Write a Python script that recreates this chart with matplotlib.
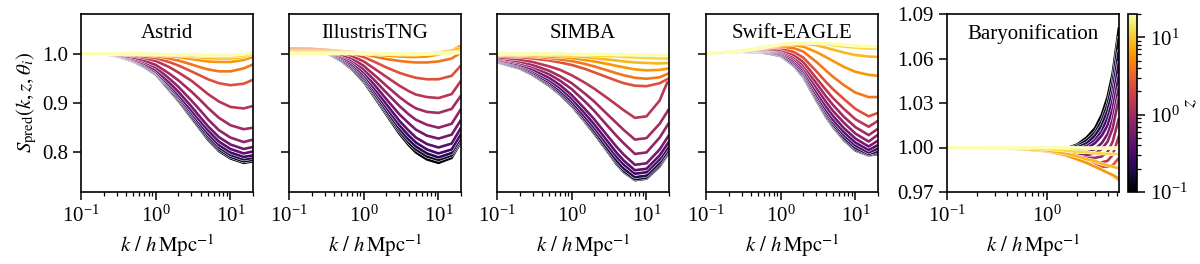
import numpy as np
import matplotlib
matplotlib.use("Agg")
import matplotlib.pyplot as plt
import matplotlib.patheffects as pe
from matplotlib.colors import LogNorm
from matplotlib.ticker import LogLocator, NullFormatter

plt.rcParams['font.family'] = 'serif'
plt.rcParams['font.serif'] = ['Liberation Serif', 'DejaVu Serif']
plt.rcParams['mathtext.fontset'] = 'stix'
plt.rcParams['font.size'] = 15

# redshifts of the curves (colour coded)
z_values = [0.1, 0.15, 0.2, 0.3, 0.4, 0.55, 0.8, 1.0, 1.4, 2.4, 4.0, 6.0, 8.5, 12.0, 20.0]

k_sim = [0.1, 0.2, 0.3, 0.5, 0.7, 1, 1.5, 2, 3, 4, 5, 7, 10, 15, 20]
k_bary = [0.1, 0.2, 0.3, 0.5, 0.7, 1, 1.5, 2, 2.5, 3, 3.5, 4, 4.5, 5.2]

S_astrid = [
    [1.000, 0.999, 0.995, 0.984, 0.973, 0.958, 0.927, 0.905, 0.870, 0.845, 0.826, 0.803, 0.788, 0.779, 0.782],
    [1.000, 0.999, 0.995, 0.985, 0.974, 0.959, 0.929, 0.907, 0.872, 0.847, 0.829, 0.806, 0.791, 0.782, 0.785],
    [1.000, 0.999, 0.996, 0.986, 0.975, 0.961, 0.932, 0.910, 0.876, 0.851, 0.833, 0.810, 0.795, 0.786, 0.789],
    [1.000, 0.999, 0.996, 0.986, 0.976, 0.962, 0.934, 0.913, 0.880, 0.856, 0.838, 0.815, 0.800, 0.791, 0.794],
    [1.000, 0.999, 0.996, 0.987, 0.978, 0.964, 0.937, 0.917, 0.885, 0.862, 0.845, 0.822, 0.807, 0.798, 0.802],
    [1.000, 0.999, 0.997, 0.988, 0.980, 0.967, 0.942, 0.923, 0.893, 0.870, 0.853, 0.831, 0.816, 0.807, 0.811],
    [1.000, 1.000, 0.997, 0.990, 0.983, 0.972, 0.950, 0.933, 0.905, 0.884, 0.867, 0.845, 0.830, 0.821, 0.826],
    [1.000, 1.000, 0.998, 0.992, 0.986, 0.977, 0.960, 0.946, 0.923, 0.905, 0.890, 0.870, 0.855, 0.847, 0.850],
    [1.000, 1.000, 0.999, 0.995, 0.991, 0.985, 0.973, 0.962, 0.945, 0.930, 0.918, 0.903, 0.892, 0.889, 0.894],
    [1.000, 1.000, 0.999, 0.997, 0.994, 0.991, 0.983, 0.976, 0.964, 0.955, 0.948, 0.940, 0.936, 0.939, 0.947],
    [1.000, 1.000, 0.999, 0.998, 0.997, 0.995, 0.990, 0.986, 0.978, 0.972, 0.968, 0.964, 0.964, 0.970, 0.978],
    [1.000, 1.000, 1.000, 0.999, 0.998, 0.997, 0.995, 0.993, 0.989, 0.986, 0.984, 0.983, 0.983, 0.987, 0.993],
    [1.000, 1.000, 1.000, 0.999, 0.999, 0.998, 0.997, 0.996, 0.994, 0.992, 0.991, 0.990, 0.990, 0.993, 0.999],
    [1.000, 1.000, 1.000, 1.000, 0.999, 0.999, 0.998, 0.997, 0.996, 0.995, 0.995, 0.994, 0.994, 0.996, 1.001],
    [1.000, 1.000, 1.000, 1.000, 1.000, 0.999, 0.999, 0.998, 0.998, 0.997, 0.997, 0.997, 0.997, 0.999, 1.003],
]

S_tng = [
    [1.008, 1.007, 1.004, 0.985, 0.968, 0.943, 0.905, 0.877, 0.838, 0.815, 0.800, 0.786, 0.779, 0.789, 0.822],
    [1.008, 1.007, 1.004, 0.986, 0.970, 0.946, 0.909, 0.881, 0.843, 0.820, 0.806, 0.792, 0.785, 0.794, 0.826],
    [1.008, 1.007, 1.004, 0.987, 0.972, 0.949, 0.912, 0.885, 0.848, 0.826, 0.812, 0.798, 0.790, 0.799, 0.831],
    [1.008, 1.007, 1.005, 0.989, 0.975, 0.953, 0.917, 0.891, 0.855, 0.834, 0.820, 0.806, 0.798, 0.806, 0.838],
    [1.009, 1.008, 1.005, 0.991, 0.978, 0.957, 0.923, 0.898, 0.864, 0.844, 0.830, 0.817, 0.810, 0.818, 0.850],
    [1.009, 1.008, 1.006, 0.993, 0.982, 0.962, 0.931, 0.908, 0.877, 0.859, 0.846, 0.834, 0.828, 0.836, 0.866],
    [1.009, 1.008, 1.006, 0.996, 0.986, 0.968, 0.941, 0.921, 0.894, 0.877, 0.866, 0.856, 0.850, 0.858, 0.888],
    [1.010, 1.009, 1.007, 0.998, 0.990, 0.975, 0.952, 0.935, 0.912, 0.898, 0.889, 0.882, 0.880, 0.888, 0.915],
    [1.010, 1.009, 1.008, 1.002, 0.995, 0.984, 0.966, 0.953, 0.935, 0.924, 0.917, 0.912, 0.910, 0.918, 0.945],
    [1.009, 1.009, 1.008, 1.004, 1.000, 0.993, 0.981, 0.972, 0.961, 0.955, 0.951, 0.948, 0.948, 0.955, 0.976],
    [1.007, 1.007, 1.007, 1.005, 1.003, 0.999, 0.993, 0.989, 0.985, 0.983, 0.982, 0.982, 0.984, 0.990, 1.002],
    [1.005, 1.005, 1.005, 1.004, 1.003, 1.001, 0.998, 0.996, 0.994, 0.993, 0.993, 0.994, 0.998, 1.006, 1.016],
    [1.003, 1.003, 1.003, 1.003, 1.002, 1.001, 1.000, 0.999, 0.998, 0.998, 0.998, 0.999, 1.002, 1.006, 1.011],
    [1.001, 1.001, 1.001, 1.001, 1.001, 1.000, 1.000, 0.999, 0.999, 0.999, 0.999, 1.000, 1.001, 1.003, 1.005],
    [1.000, 1.000, 1.000, 1.000, 1.000, 1.000, 1.000, 1.000, 1.000, 1.000, 1.000, 1.000, 1.000, 1.001, 1.002],
]

S_simba = [
    [0.983, 0.970, 0.957, 0.935, 0.917, 0.894, 0.862, 0.838, 0.802, 0.776, 0.760, 0.744, 0.747, 0.772, 0.800],
    [0.984, 0.971, 0.958, 0.937, 0.919, 0.896, 0.864, 0.840, 0.804, 0.779, 0.762, 0.746, 0.749, 0.775, 0.803],
    [0.985, 0.972, 0.960, 0.939, 0.921, 0.899, 0.867, 0.844, 0.808, 0.783, 0.767, 0.750, 0.753, 0.779, 0.807],
    [0.986, 0.974, 0.962, 0.942, 0.925, 0.903, 0.872, 0.850, 0.815, 0.791, 0.775, 0.757, 0.760, 0.786, 0.813],
    [0.987, 0.976, 0.965, 0.946, 0.930, 0.909, 0.879, 0.857, 0.823, 0.799, 0.783, 0.764, 0.767, 0.794, 0.822],
    [0.988, 0.978, 0.968, 0.951, 0.936, 0.916, 0.888, 0.867, 0.834, 0.811, 0.795, 0.775, 0.778, 0.806, 0.835],
    [0.990, 0.981, 0.973, 0.958, 0.945, 0.928, 0.903, 0.884, 0.854, 0.833, 0.818, 0.797, 0.800, 0.830, 0.860],
    [0.991, 0.984, 0.977, 0.965, 0.954, 0.940, 0.919, 0.903, 0.877, 0.859, 0.845, 0.826, 0.829, 0.858, 0.888],
    [0.993, 0.988, 0.983, 0.974, 0.967, 0.956, 0.941, 0.929, 0.910, 0.896, 0.885, 0.870, 0.873, 0.905, 0.950],
    [0.995, 0.993, 0.990, 0.986, 0.982, 0.977, 0.969, 0.962, 0.952, 0.945, 0.940, 0.935, 0.934, 0.940, 0.950],
    [0.997, 0.995, 0.994, 0.991, 0.988, 0.985, 0.979, 0.974, 0.966, 0.960, 0.956, 0.951, 0.949, 0.952, 0.960],
    [0.998, 0.997, 0.996, 0.994, 0.993, 0.991, 0.987, 0.984, 0.979, 0.975, 0.972, 0.968, 0.966, 0.967, 0.970],
    [0.999, 0.998, 0.998, 0.997, 0.996, 0.995, 0.993, 0.991, 0.988, 0.986, 0.984, 0.982, 0.981, 0.980, 0.981],
    [1.000, 0.999, 0.999, 0.999, 0.998, 0.998, 0.997, 0.996, 0.995, 0.994, 0.993, 0.992, 0.991, 0.990, 0.990],
    [1.000, 1.000, 1.000, 1.000, 1.000, 0.999, 0.999, 0.999, 0.999, 0.998, 0.998, 0.998, 0.997, 0.997, 0.997],
]

S_swift = [
    [1.000, 1.002, 1.003, 1.003, 1.000, 0.995, 0.975, 0.953, 0.905, 0.873, 0.852, 0.825, 0.804, 0.794, 0.797],
    [1.000, 1.002, 1.003, 1.003, 1.001, 0.996, 0.976, 0.955, 0.907, 0.875, 0.854, 0.827, 0.806, 0.795, 0.799],
    [1.000, 1.002, 1.003, 1.004, 1.002, 0.997, 0.977, 0.956, 0.909, 0.878, 0.857, 0.830, 0.809, 0.797, 0.802],
    [1.000, 1.002, 1.004, 1.004, 1.003, 0.998, 0.979, 0.959, 0.913, 0.882, 0.861, 0.835, 0.814, 0.800, 0.808],
    [1.000, 1.002, 1.004, 1.005, 1.004, 1.000, 0.982, 0.962, 0.917, 0.887, 0.866, 0.841, 0.820, 0.805, 0.815],
    [1.000, 1.002, 1.004, 1.005, 1.005, 1.002, 0.985, 0.966, 0.923, 0.894, 0.874, 0.849, 0.828, 0.812, 0.824],
    [1.000, 1.002, 1.004, 1.006, 1.006, 1.004, 0.989, 0.971, 0.931, 0.903, 0.884, 0.860, 0.838, 0.822, 0.836],
    [1.000, 1.002, 1.004, 1.006, 1.007, 1.006, 0.993, 0.977, 0.940, 0.914, 0.896, 0.872, 0.851, 0.835, 0.848],
    [1.000, 1.002, 1.004, 1.007, 1.008, 1.008, 0.997, 0.983, 0.950, 0.927, 0.910, 0.888, 0.867, 0.852, 0.864],
    [1.000, 1.002, 1.005, 1.008, 1.010, 1.011, 1.003, 0.992, 0.964, 0.943, 0.928, 0.908, 0.888, 0.873, 0.880],
    [1.000, 1.003, 1.005, 1.009, 1.012, 1.014, 1.011, 1.004, 0.983, 0.966, 0.953, 0.936, 0.921, 0.912, 0.912],
    [1.000, 1.003, 1.006, 1.010, 1.013, 1.016, 1.017, 1.014, 1.003, 0.993, 0.985, 0.973, 0.963, 0.957, 0.955],
    [1.000, 1.003, 1.006, 1.011, 1.014, 1.018, 1.020, 1.020, 1.017, 1.012, 1.008, 1.002, 0.997, 0.994, 0.993],
    [1.000, 1.003, 1.006, 1.011, 1.015, 1.019, 1.021, 1.022, 1.021, 1.019, 1.017, 1.014, 1.012, 1.010, 1.010],
    [1.000, 1.003, 1.006, 1.011, 1.015, 1.019, 1.021, 1.022, 1.022, 1.021, 1.020, 1.018, 1.016, 1.015, 1.014],
]

S_bary = [
    [1.000, 1.000, 0.9997, 0.9992, 0.9988, 0.9985, 0.9990, 1.002, 1.007, 1.013, 1.022, 1.034, 1.050, 1.081],
    [1.000, 1.000, 0.9997, 0.9992, 0.9988, 0.9985, 0.9988, 1.001, 1.005, 1.010, 1.018, 1.029, 1.044, 1.075],
    [1.000, 1.000, 0.9997, 0.9992, 0.9988, 0.9984, 0.9985, 1.000, 1.003, 1.008, 1.015, 1.025, 1.038, 1.066],
    [1.000, 1.000, 0.9997, 0.9992, 0.9988, 0.9983, 0.9980, 0.999, 1.001, 1.005, 1.011, 1.020, 1.032, 1.058],
    [1.000, 1.000, 0.9997, 0.9992, 0.9987, 0.9982, 0.9975, 0.998, 0.9995, 1.003, 1.008, 1.015, 1.026, 1.049],
    [1.000, 1.000, 0.9997, 0.9992, 0.9987, 0.9981, 0.9970, 0.9965, 0.997, 0.999, 1.003, 1.009, 1.019, 1.041],
    [1.000, 1.000, 0.9997, 0.9992, 0.9986, 0.9980, 0.9965, 0.995, 0.995, 0.996, 0.999, 1.004, 1.013, 1.034],
    [1.000, 1.000, 0.9997, 0.9992, 0.9986, 0.9980, 0.996, 0.994, 0.993, 0.993, 0.994, 0.997, 1.004, 1.020],
    [1.000, 1.000, 0.9997, 0.9992, 0.9986, 0.9980, 0.9955, 0.993, 0.991, 0.990, 0.990, 0.991, 0.995, 1.008],
    [1.000, 1.000, 0.9997, 0.9991, 0.9985, 0.9978, 0.995, 0.992, 0.990, 0.988, 0.987, 0.987, 0.988, 0.993],
    [1.000, 1.000, 0.9997, 0.9991, 0.9984, 0.9975, 0.995, 0.992, 0.990, 0.987, 0.985, 0.983, 0.981, 0.978],
    [1.000, 1.000, 0.9997, 0.9991, 0.9984, 0.9975, 0.995, 0.992, 0.9895, 0.987, 0.985, 0.983, 0.9815, 0.979],
    [1.000, 1.000, 0.9998, 0.9993, 0.9987, 0.9980, 0.996, 0.994, 0.992, 0.991, 0.989, 0.988, 0.987, 0.986],
    [1.000, 1.000, 1.000, 0.9997, 0.9995, 0.9990, 0.998, 0.997, 0.997, 0.996, 0.996, 0.9958, 0.9955, 0.9955],
    [1.000, 1.000, 1.000, 1.000, 1.000, 1.000, 0.9998, 0.9997, 0.9996, 0.9996, 0.9996, 0.9996, 0.9996, 0.9996],
]

titles = ["Astrid", "IllustrisTNG", "SIMBA", "Swift-EAGLE", "Baryonification"]
panel_k = [k_sim, k_sim, k_sim, k_sim, k_bary]
panel_S = [S_astrid, S_tng, S_simba, S_swift, S_bary]

W, H = 1200, 264
fig = plt.figure(figsize=(W / 100, H / 100), dpi=100)

lefts = [81, 289, 497, 706, 947]
pw = 172
bottom = 1 - 192 / H
ph = (192 - 14) / H

cmap = plt.get_cmap('inferno')
norm = LogNorm(vmin=0.1, vmax=20)

axes = []
for i in range(5):
    ax = fig.add_axes([lefts[i] / W, bottom, pw / W, ph])
    axes.append(ax)
    ks = panel_k[i]
    for z, row in zip(z_values, panel_S[i]):
        ax.plot(ks, row, color=cmap(norm(z)), lw=1.9, solid_capstyle='butt',
                path_effects=[pe.Stroke(linewidth=2.6, foreground='white'), pe.Normal()])
    ax.set_xscale('log')
    ax.set_xlim(ks[0], ks[-1])
    if i < 4:
        ax.set_ylim(0.72, 1.08)
        ax.set_yticks([0.8, 0.9, 1.0])
        if i == 0:
            ax.set_yticklabels(['0.8', '0.9', '1.0'])
        else:
            ax.set_yticklabels([])
    else:
        ax.set_ylim(0.97, 1.09)
        ax.set_yticks([0.97, 1.00, 1.03, 1.06, 1.09])
        ax.set_yticklabels(['0.97', '1.00', '1.03', '1.06', '1.09'])
    ax.xaxis.set_major_locator(LogLocator(base=10, numticks=10))
    ax.xaxis.set_minor_locator(LogLocator(base=10, subs=np.arange(2, 10), numticks=10))
    ax.xaxis.set_minor_formatter(NullFormatter())
    ax.tick_params(which='major', length=6, width=1.1, labelsize=15)
    ax.tick_params(which='minor', length=3, width=0.9)
    for s in ax.spines.values():
        s.set_linewidth(1.2)
    ax.set_xlabel(r'$k\ /\ h\,\mathrm{Mpc}^{-1}$', fontsize=15, labelpad=4)
    ax.text(0.5, 0.89, titles[i], transform=ax.transAxes, ha='center', va='center', fontsize=15)

axes[0].set_ylabel(r'$S_\mathrm{pred}(k, z, \theta_i)$', fontsize=15, labelpad=2)

cax = fig.add_axes([1128 / W, bottom, 9 / W, ph])
sm = matplotlib.cm.ScalarMappable(norm=norm, cmap=cmap)
cb = fig.colorbar(sm, cax=cax)
cb.outline.set_linewidth(1.2)
cax.tick_params(which='major', length=6, width=1.1, labelsize=15)
cax.tick_params(which='minor', length=3, width=0.9)
cb.set_label(r'$z$', fontsize=15)
cax.yaxis.set_label_coords(5.9, 0.5)

fig.savefig('out.png', dpi=100)
